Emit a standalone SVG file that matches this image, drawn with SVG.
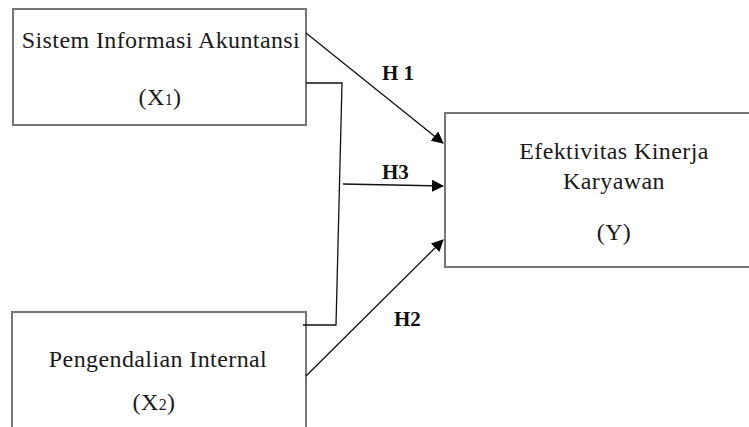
<svg xmlns="http://www.w3.org/2000/svg" width="749" height="427" viewBox="0 0 749 427">
<defs>
<marker id="ah" markerWidth="12" markerHeight="12" refX="11" refY="6" orient="auto" markerUnits="userSpaceOnUse" viewBox="0 0 12 12">
<path d="M0,0 L12,6 L0,12 z" fill="#000"/>
</marker>
<style>
.box{fill:#fff;stroke:#767676;stroke-width:2}
.t{font-family:"Liberation Serif","Times New Roman",serif;font-size:24px;fill:#1a1a1a;text-anchor:middle;letter-spacing:0.4px}
.h{font-family:"Liberation Serif","Times New Roman",serif;font-size:21px;font-weight:bold;fill:#111}
.ln{fill:none;stroke:#111;stroke-width:1.3}
</style>
</defs>
<rect width="749" height="427" fill="#fff"/>
<g id="x1">
<rect class="box" x="13" y="9" width="293" height="116"/>
<text class="t" x="161" y="48">Sistem Informasi Akuntansi</text>
<text class="t" x="160" y="105">(X<tspan font-size="16">1</tspan>)</text>
</g>
<g id="x2">
<rect class="box" x="12" y="312" width="294" height="140"/>
<text class="t" x="158" y="367">Pengendalian Internal</text>
<text class="t" x="154" y="410">(X<tspan font-size="16">2</tspan>)</text>
</g>
<g id="y">
<rect class="box" x="445" y="113" width="330" height="154"/>
<text class="t" x="614" y="159">Efektivitas Kinerja</text>
<text class="t" x="614" y="189">Karyawan</text>
<text class="t" x="614" y="240">(Y)</text>
</g>
<g id="connectors">
<polyline class="ln" points="306,83 342,83 336,325 303,325"/>
<line class="ln" x1="306" y1="33" x2="443" y2="143" marker-end="url(#ah)"/>
<line class="ln" x1="343" y1="184" x2="443" y2="186" marker-end="url(#ah)"/>
<line class="ln" x1="306" y1="376" x2="443" y2="240" marker-end="url(#ah)"/>
<text class="h" x="382" y="80">H 1</text>
<text class="h" x="382" y="179">H3</text>
<text class="h" x="394" y="326">H2</text>
</g>
</svg>
